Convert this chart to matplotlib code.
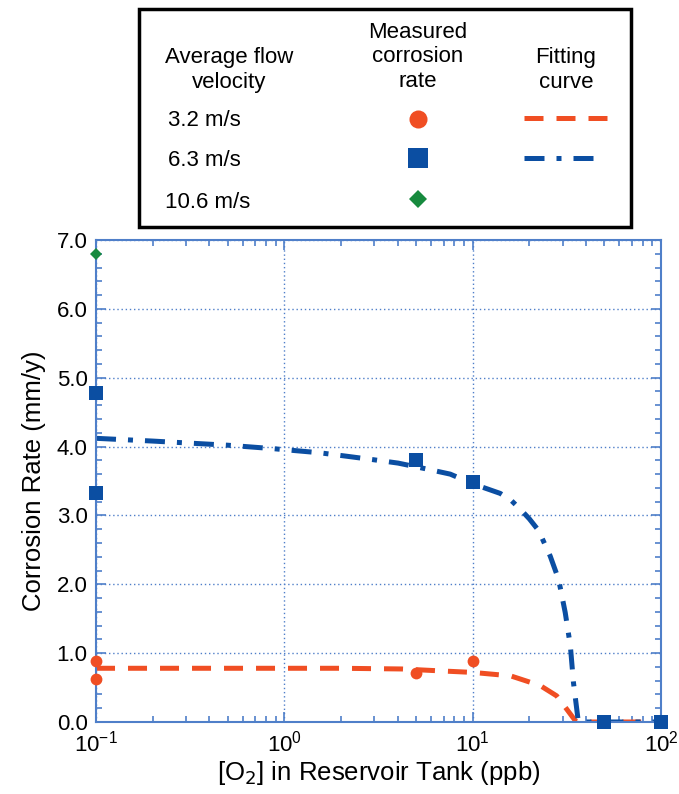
import matplotlib
matplotlib.use("Agg")
import matplotlib.pyplot as plt
import matplotlib.ticker as mticker
from matplotlib.patches import Rectangle
from matplotlib.lines import Line2D

plt.rcParams["font.family"] = ["Liberation Sans", "DejaVu Sans"]

# Measured corrosion rate (mm/y) vs dissolved O2 (ppb)
o2_32 = [0.1, 0.1, 5, 10, 50, 100]
rate_32 = [0.89, 0.63, 0.71, 0.89, 0.0, 0.0]
o2_63 = [0.1, 0.1, 5, 10, 50, 100]
rate_63 = [4.78, 3.32, 3.81, 3.48, 0.0, 0.0]
o2_106 = [0.1]
rate_106 = [6.8]

# Fitting curves
fit_o2_32 = [0.1, 0.3, 1, 2, 4.2, 7, 10, 15.9, 22.8, 27.9, 31.5, 35.5, 50, 100]
fit_rate_32 = [0.78, 0.78, 0.78, 0.78, 0.77, 0.74, 0.72, 0.67, 0.53, 0.38, 0.19, 0.0, 0.0, 0.0]
fit_o2_63 = [0.1, 0.2, 0.5, 0.87, 1.54, 2.14, 2.96, 4.02, 5.57, 7.6, 10, 14, 16, 18.2,
             20, 22.4, 25.8, 28.6, 31, 33, 34.3, 36.4, 50, 100]
fit_rate_63 = [4.12, 4.08, 4.02, 3.97, 3.91, 3.86, 3.81, 3.76, 3.68, 3.60, 3.46, 3.32, 3.22, 3.07,
               2.95, 2.78, 2.41, 2.07, 1.59, 1.11, 0.57, 0.0, 0.0, 0.0]

velocity_labels = ["3.2 m/s", "6.3 m/s", "10.6 m/s"]

RED = "#f04e23"
BLUE = "#0b4ea2"
GREEN = "#178a3e"
AXBLUE = "#4f7fc9"

fig = plt.figure(figsize=(6.79, 7.94), dpi=100)
ax = fig.add_axes([0.1414, 0.0907, 0.8321, 0.607])

ax.plot(fit_o2_32, fit_rate_32, color=RED, lw=3.6, dashes=(3.8, 2.6), zorder=2)
ax.plot(fit_o2_63, fit_rate_63, color=BLUE, lw=3.6, dashes=(4.0, 2.4, 1.0, 2.4), zorder=2)
ax.plot(o2_32, rate_32, "o", color=RED, ms=8.5, mew=0, clip_on=False, zorder=3)
ax.plot(o2_63, rate_63, "s", color=BLUE, ms=9.5, mew=0, clip_on=False, zorder=3)
ax.plot(o2_106, rate_106, "D", color=GREEN, ms=6.5, mew=0, clip_on=False, zorder=3)

ax.set_xscale("log")
ax.set_xlim(0.1, 100)
ax.set_ylim(0, 7)
ax.yaxis.set_major_locator(mticker.MultipleLocator(1))
ax.yaxis.set_minor_locator(mticker.MultipleLocator(0.2))
ax.yaxis.set_major_formatter(mticker.FormatStrFormatter("%.1f"))
ax.xaxis.set_minor_locator(mticker.LogLocator(base=10, subs=range(2, 10)))
ax.xaxis.set_minor_formatter(mticker.NullFormatter())

for side in ax.spines.values():
    side.set_color(AXBLUE)
    side.set_linewidth(1.5)
ax.tick_params(which="both", direction="in", top=True, right=True,
               color=AXBLUE, labelsize=16, width=1.2, pad=6)
ax.tick_params(which="major", length=7)
ax.tick_params(which="minor", length=4)
ax.grid(True, which="major", color=AXBLUE, linestyle=(0, (1, 2)), linewidth=1.0)

ax.set_ylabel("Corrosion Rate (mm/y)", fontsize=18.5, labelpad=8)
ax.set_xlabel("[O$_2$] in Reservoir Tank (ppb)", fontsize=18.5, labelpad=2)

# Legend panel above the axes
leg = fig.add_axes([0, 0, 1, 1], facecolor="none")
leg.set_xlim(0, 679)
leg.set_ylim(794, 0)
leg.axis("off")
leg.add_patch(Rectangle((139, 9), 492, 218, fill=False, edgecolor="black", linewidth=2.5))

hdr = dict(fontsize=16, ha="center", va="center", linespacing=1.22)
leg.text(229, 70, "Average flow\nvelocity", **hdr)
leg.text(418, 57, "Measured\ncorrosion\nrate", **hdr)
leg.text(566, 70, "Fitting\ncurve", **hdr)

row_x = [168, 168, 165]
row_y = [120, 160, 202]
for label, x, y in zip(velocity_labels, row_x, row_y):
    leg.text(x, y, label, fontsize=16, ha="left", va="center")

leg.add_artist(Line2D([418], [row_y[0] - 1], marker="o", color=RED, ms=13, mew=0))
leg.add_artist(Line2D([418], [row_y[1] - 2], marker="s", color=BLUE, ms=14, mew=0))
leg.add_artist(Line2D([418], [row_y[2] - 3], marker="D", color=GREEN, ms=9, mew=0))
leg.add_artist(Line2D([524, 610], [row_y[0] - 2, row_y[0] - 2], color=RED, lw=3.6, dashes=(3.8, 2.6)))
leg.add_artist(Line2D([524, 599], [row_y[1] - 2, row_y[1] - 2], color=BLUE, lw=3.6,
                      dashes=(4.0, 2.4, 1.0, 2.4)))

fig.savefig("out.png", dpi=100)
